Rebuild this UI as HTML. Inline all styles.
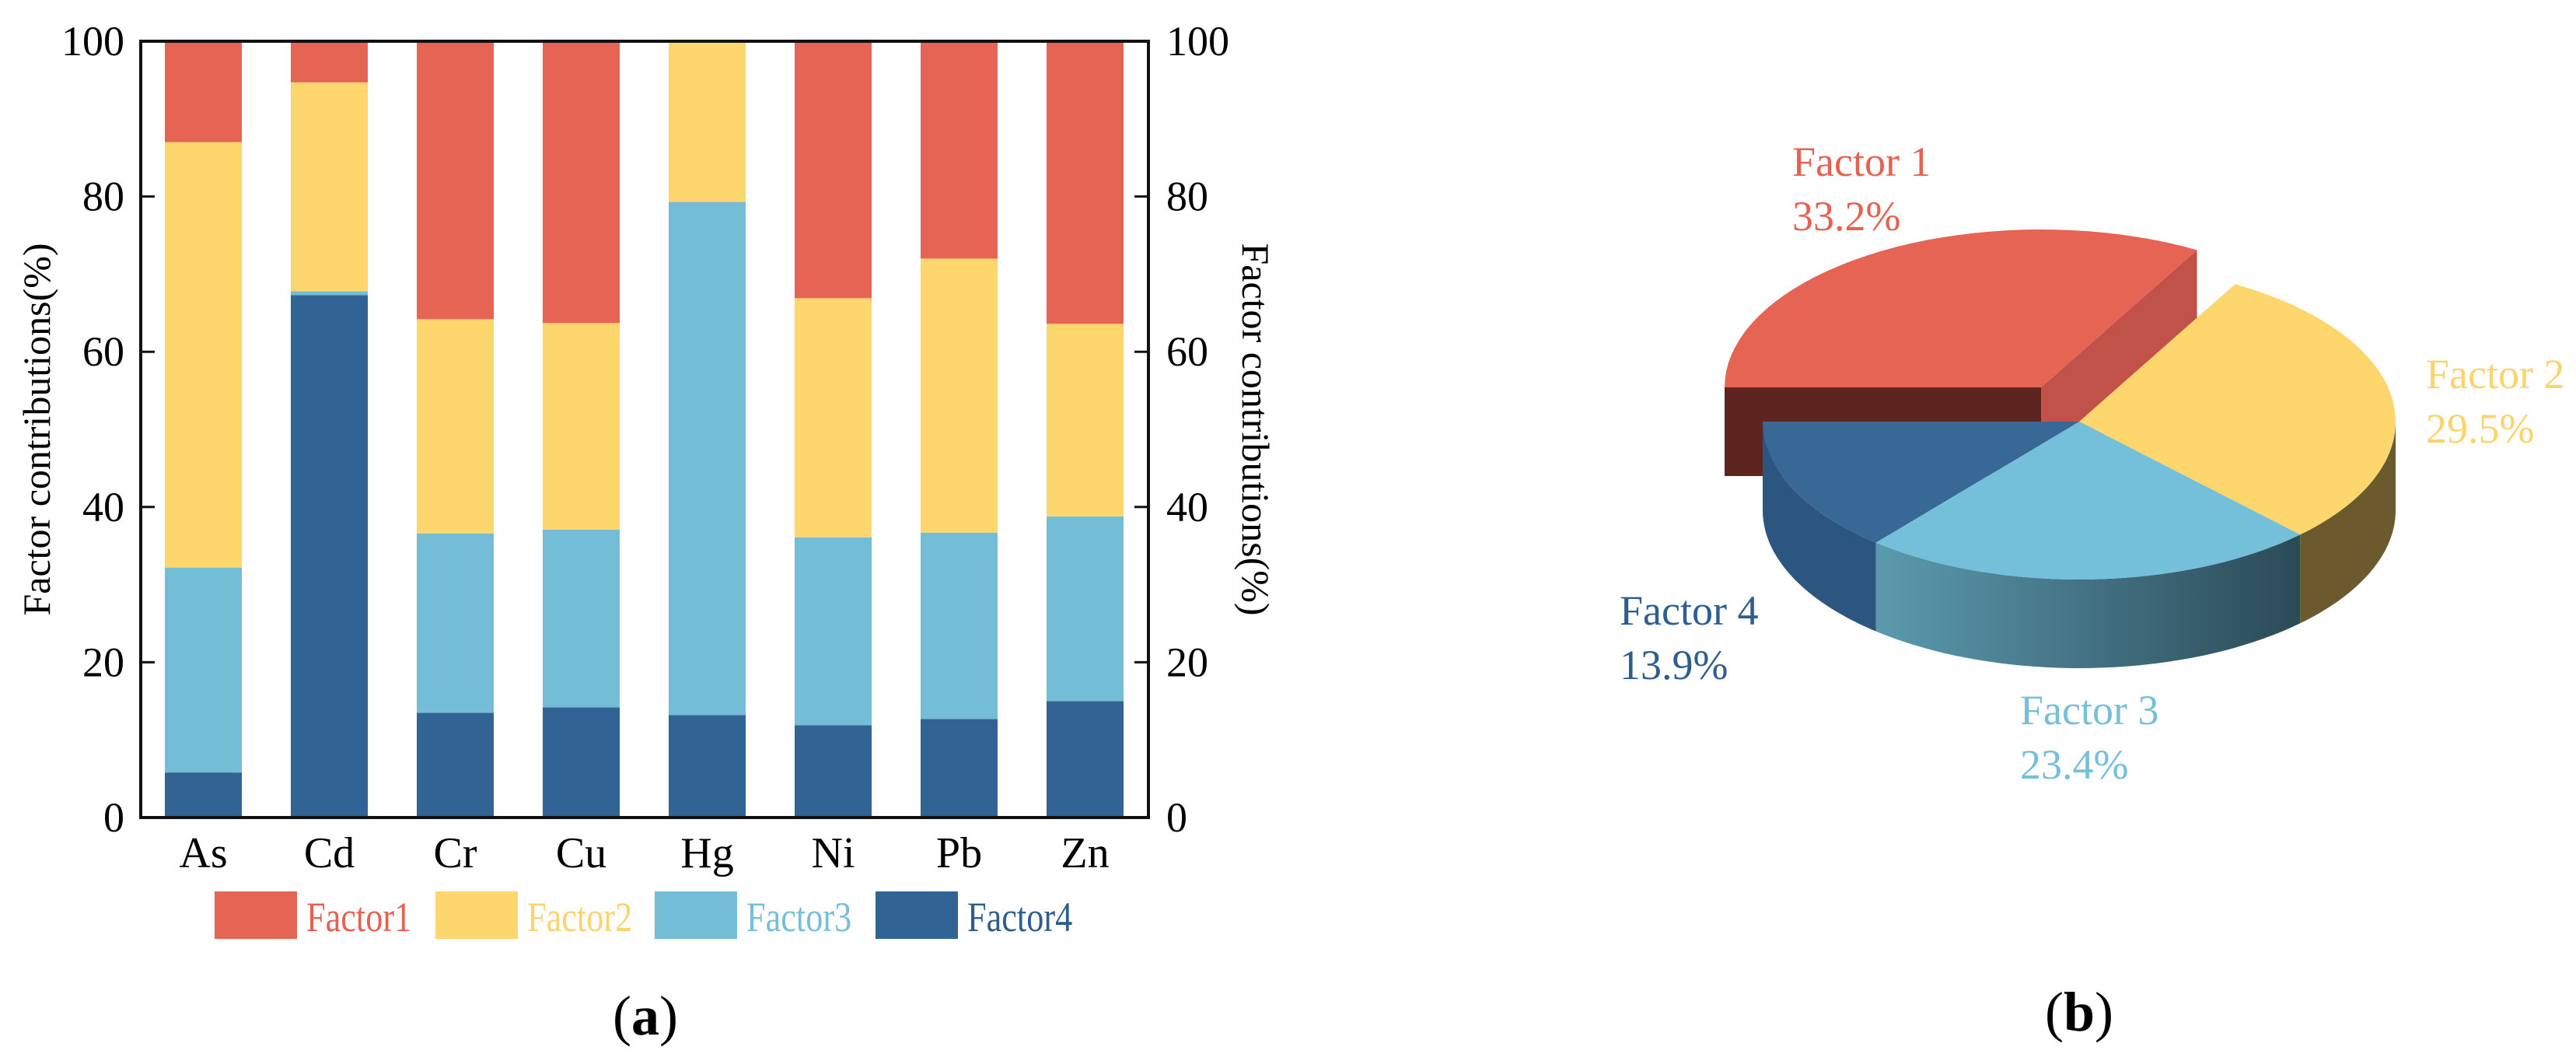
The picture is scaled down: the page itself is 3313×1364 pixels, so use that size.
<!DOCTYPE html>
<html><head><meta charset="utf-8"><style>
html,body{margin:0;padding:0;background:#fff;}
svg{display:block;font-family:"Liberation Serif",serif;}
</style></head><body>
<svg id="s" width="3313" height="1364" viewBox="0 0 3313 1364" xmlns="http://www.w3.org/2000/svg">
<g id="bars"></g>
<g id="pie"></g>
</svg>
<script>
const categories=["As","Cd","Cr","Cu","Hg","Ni","Pb","Zn"];
const factor4=[5.8,67.3,13.5,14.2,13.2,11.9,12.7,15.0];
const factor3=[26.4,0.5,23.1,22.9,66.1,24.2,24.0,23.8];
const factor2=[54.8,26.9,27.6,26.6,20.7,30.8,35.3,24.8];
const factor1=[13.0,5.3,35.8,36.3,0.0,33.1,28.0,36.4];
const yTicks=[0,20,40,60,80,100];
const seriesNames=["Factor1","Factor2","Factor3","Factor4"];
const pieLabels=["Factor 1","Factor 2","Factor 3","Factor 4"];
const pieValues=[33.2,29.5,23.4,13.9];

const NS="http://www.w3.org/2000/svg";
function mk(tag,attrs,parent,text){const e=document.createElementNS(NS,tag);for(const k in attrs)e.setAttribute(k,attrs[k]);if(text!==undefined)e.textContent=text;parent.appendChild(e);return e;}
const colors=["#e66454","#fed66e","#74bdd7","#326395"];
const textColors=["#e8604f","#fdd46c","#74bfd9","#2e5e8e"];
const X0=181,X1=1477,Y0=1051,Y1=53;
const slot=(X1-X0)/categories.length;
const xs=i=>X0+slot*i;
const ys=v=>Y0-(v/100)*(Y0-Y1);
const g=document.getElementById('bars');
const series=[factor4,factor3,factor2,factor1];
const serCol=[colors[3],colors[2],colors[1],colors[0]];
categories.forEach((c,i)=>{
  let acc=0;
  series.forEach((s,k)=>{
    const v=s[i];
    const r=mk('rect',{x:xs(i)+31,y:ys(acc+v),width:99,height:Math.max(0,ys(acc)-ys(acc+v)),fill:serCol[k]},g);
    
    
    acc+=v;
  });
  const t=mk('text',{x:xs(i)+80.5,y:1115,'font-size':56,'text-anchor':'middle',fill:'#000'},g,c);
  
  
});
const frame=mk('rect',{x:X0,y:Y1,width:X1-X0,height:Y0-Y1,fill:'none',stroke:'#111','stroke-width':4},g);


yTicks.forEach(v=>{
  const y=ys(v);
  mk('line',{x1:X0,x2:X0+18,y1:y,y2:y,stroke:'#111','stroke-width':3},g);
  mk('line',{x1:X1-18,x2:X1,y1:y,y2:y,stroke:'#111','stroke-width':3},g);
  const a=mk('text',{x:160,y:y+18,'font-size':54,'text-anchor':'end'},g,String(v));
  
  
  const b=mk('text',{x:1500,y:y+18,'font-size':54,'text-anchor':'start'},g,String(v));
  
  
});
const yt=mk('text',{x:0,y:0,'font-size':50,'text-anchor':'middle',transform:'translate(64,552) rotate(-90)'},g,'Factor contributions(%)');


const yt2=mk('text',{x:0,y:0,'font-size':50,'text-anchor':'middle',transform:'translate(1598,552) rotate(90)'},g,'Factor contributions(%)');


const lsx=[276,560,842,1126];
seriesNames.forEach((n,i)=>{
  const r=mk('rect',{x:lsx[i],y:1146,width:106,height:61,fill:colors[i]},g);
  
  
  const t=mk('text',{x:0,y:0,'font-size':54,fill:textColors[i],transform:'translate('+(lsx[i]+118)+',1197) scale(0.82,1)'},g,n);
  
  
});
const la=mk('text',{x:830,y:1330,'font-size':72,'text-anchor':'middle'},g,'');


la.innerHTML='(<tspan font-weight="bold">a</tspan>)';

// Pie
const P=document.getElementById('pie');
const cx=2674,cy=542,rx=407,ry=203,th=114;
const pt=(t,dx,dy)=>[cx+dx+rx*Math.cos(t),cy+dy+ry*Math.sin(t)];
const rad=d=>d*Math.PI/180;
const total=pieValues.reduce((a,b)=>a+b,0);
let start=180;const angs=[];
pieValues.forEach(v=>{const e=start+v/total*360;angs.push([start,e]);start=e;});
function arcPath(a0,a1,dx,dy,off){let s='';const n=40;for(let k=0;k<=n;k++){const a=rad(a0+(a1-a0)*k/n);const p=pt(a,dx,dy+off);s+=(k?'L':'M')+p[0].toFixed(1)+','+p[1].toFixed(1);}return s;}
function sidePath(a0,a1,dx,dy){let s=arcPath(a0,a1,dx,dy,0);const n=40;for(let k=n;k>=0;k--){const a=rad(a0+(a1-a0)*k/n);const p=pt(a,dx,dy+th);s+='L'+p[0].toFixed(1)+','+p[1].toFixed(1);}return s+'Z';}
const defs=mk('defs',{},P);
const gr=mk('linearGradient',{id:'cg',x1:'0',x2:'1',y1:'0',y2:'0'},defs);
mk('stop',{offset:'0','stop-color':'#5b9aae'},gr);
mk('stop',{offset:'1','stop-color':'#2b4a57'},gr);
// exploded red slice
const ex=-49,ey=-44;
const [r0,r1]=angs[0];
const ap=[cx+ex,cy+ey];
const pL=pt(rad(r0),ex,ey),pR=pt(rad(r1),ex,ey);
let e=mk('path',{d:`M${pL[0]},${pL[1]}L${ap[0]},${ap[1]}L${ap[0]},${ap[1]+th}L${pL[0]},${pL[1]+th}Z`,fill:'#5e2520'},P);


e=mk('path',{d:`M${ap[0]},${ap[1]}L${pR[0]},${pR[1]}L${pR[0]},${pR[1]+th}L${ap[0]},${ap[1]+th}Z`,fill:'#c0524a'},P);


e=mk('path',{d:'M'+ap[0]+','+ap[1]+arcPath(r0,r1,ex,ey,0).replace('M','L')+'Z',fill:colors[0]},P);


// other slices' outer sides (front half: 0..180 => 360..540)
const sideCols=['#6b5a2d','url(#cg)','#2c5580'];
for(let i=1;i<4;i++){
  let [a0,a1]=angs[i];
  const f0=Math.max(a0,360),f1=Math.min(a1,540);
  if(f1>f0){
    e=mk('path',{d:sidePath(f0,f1,0,0),fill:sideCols[i-1]},P);
    
    
  }
}
for(let i=1;i<4;i++){
  const [a0,a1]=angs[i];
  e=mk('path',{d:'M'+cx+','+cy+arcPath(a0,a1,0,0,0).replace('M','L')+'Z',fill:[null,'#fed66e','#74bfd9','#386896'][i]},P);
  
  
}
const lp=[[2305,208],[3120,481],[2598,913],[2083,785]];
pieLabels.forEach((n,i)=>{
  const t=mk('text',{x:lp[i][0],y:lp[i][1]+18,'font-size':54,fill:textColors[i]},P,n);
  
  
  const v=mk('text',{x:lp[i][0],y:lp[i][1]+88,'font-size':54,fill:textColors[i]},P,pieValues[i].toFixed(1)+'%');
  
  
});
const lb=mk('text',{x:2674,y:1325,'font-size':72,'text-anchor':'middle'},P,'');


lb.innerHTML='(<tspan font-weight="bold">b</tspan>)';
</script>
</body></html>
